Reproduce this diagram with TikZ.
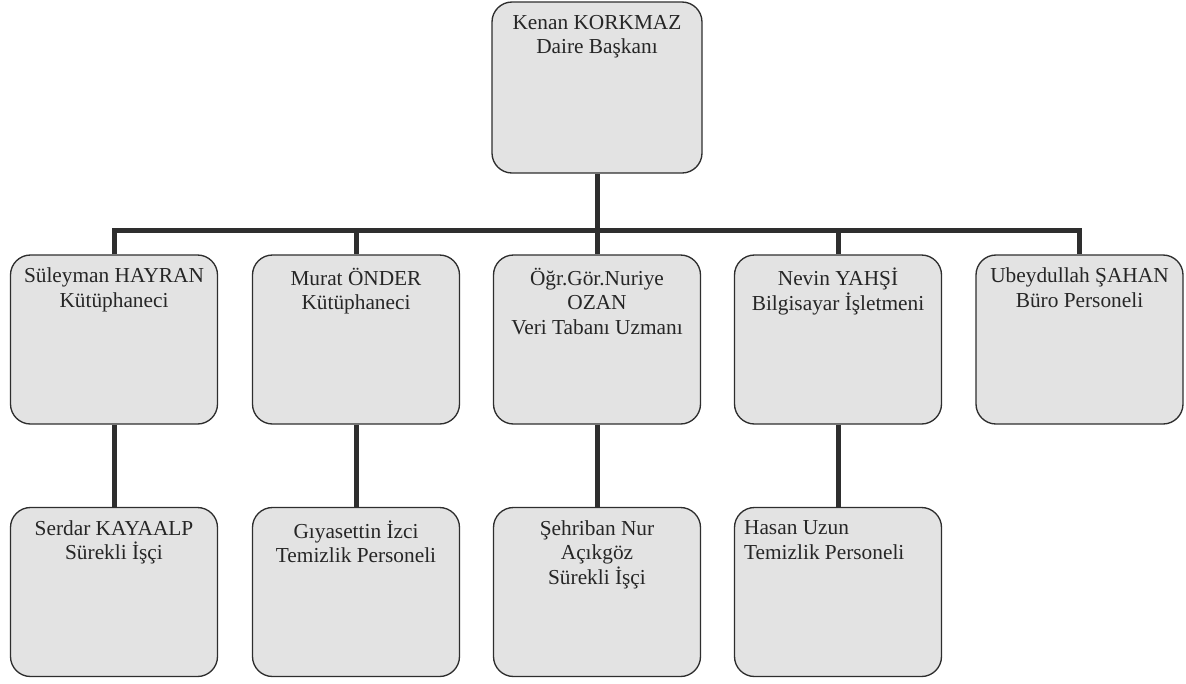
\documentclass[tikz,border=0pt]{standalone}
\usepackage{fontspec}
\setmainfont{Liberation Serif}
\usetikzlibrary{positioning}
\definecolor{kutugri}{HTML}{E3E3E3}
\definecolor{cizgi}{HTML}{2E2E2E}
\tikzset{
  kutu/.style={draw=cizgi, line width=1pt, fill=kutugri, rounded corners=15pt,
    minimum width=155.25pt, minimum height=126.75pt, inner sep=0pt},
  ustkutu/.style={kutu, minimum width=157.5pt, minimum height=128.25pt},
  yazi/.style={anchor=north, yshift=-10pt, align=center, inner sep=0pt, text=black!85,
    font=\fontsize{16}{18.5}\selectfont, execute at begin node=\strut},
  yazisol/.style={yazi, anchor=north west, align=left, xshift=7.5pt},
  hat/.style={draw=cizgi, line width=3.75pt}
}
\newcommand{\kutu}[4]{\node[kutu, label={[yazi]north:{#4}}] (#1) at ( #2 , #3 ) {};}
\newcommand{\kutusol}[4]{\node[kutu, label={[yazisol]north west:{#4}}] (#1) at ( #2 , #3 ) {};}

\begin{document}
\begin{tikzpicture}[x=0.75pt, y=-0.75pt]
\useasboundingbox (0,0) rectangle (1186,683);
% top box
\node[ustkutu, label={[yazi]north:{Kenan KORKMAZ\\Daire Başkanı}}] (ust) at (597,87.5) {};
% row 1 of boxes
\kutu{hayran}{114}{339.5}{Süleyman HAYRAN\\Kütüphaneci}
\kutu{onder}{356}{339.5}{Murat ÖNDER\\Kütüphaneci}
\kutu{ozan}{597}{339.5}{Öğr.Gör.Nuriye\\OZAN\\Veri Tabanı Uzmanı}
\kutu{yahsi}{838}{339.5}{Nevin YAHŞİ\\Bilgisayar İşletmeni}
\kutu{sahan}{1079.5}{339.5}{Ubeydullah ŞAHAN\\Büro Personeli}
% row 2 of boxes
\kutu{kayaalp}{114}{592}{Serdar KAYAALP\\Sürekli İşçi}
\kutu{izci}{356}{592}{Gıyasettin İzci\\Temizlik Personeli}
\kutu{acikgoz}{597}{592}{Şehriban Nur\\Açıkgöz\\Sürekli İşçi}
\kutusol{uzun}{838}{592}{Hasan Uzun\\Temizlik Personeli}
% connectors
\coordinate (bar) at (0,230);
\draw[hat] (ust.south) -- (ust.south |- bar);
\draw[hat] (hayran.north) -- (hayran.north |- bar) -- (sahan.north |- bar) -- (sahan.north);
\draw[hat] (onder.north) -- (onder.north |- bar);
\draw[hat] (ozan.north) -- (ozan.north |- bar);
\draw[hat] (yahsi.north) -- (yahsi.north |- bar);
\draw[hat] (hayran.south) -- (kayaalp.north);
\draw[hat] (onder.south) -- (izci.north);
\draw[hat] (ozan.south) -- (acikgoz.north);
\draw[hat] (yahsi.south) -- (uzun.north);
\end{tikzpicture}
\end{document}
